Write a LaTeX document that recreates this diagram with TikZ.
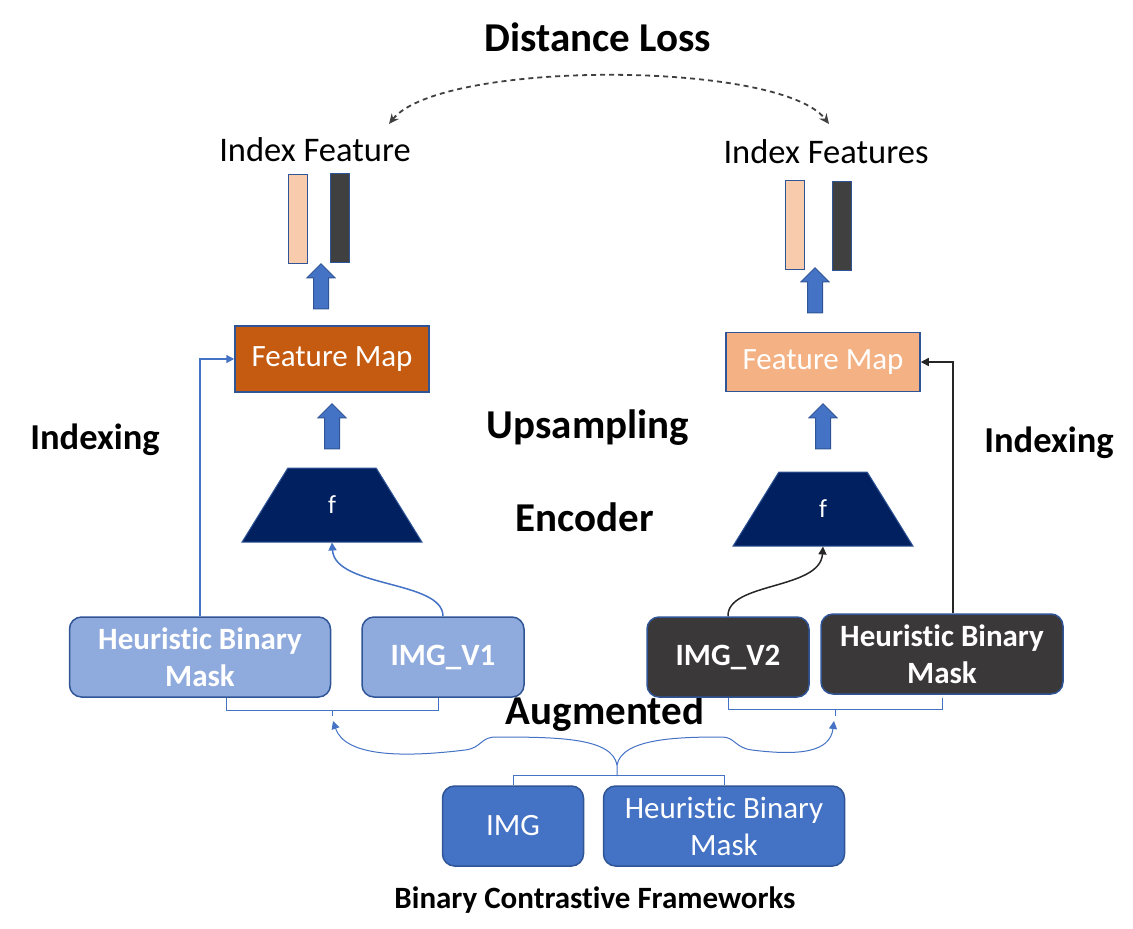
\documentclass[tikz,border=0pt]{standalone}
\usepackage{fontspec}
\setmainfont{Carlito}[Ligatures=NoCommon]
\usetikzlibrary{shapes.geometric,shapes.arrows,arrows.meta}
\definecolor{peach}{HTML}{F8CBAD}
\definecolor{darkbar}{HTML}{404040}
\definecolor{edgeblue}{HTML}{2F5597}
\definecolor{midblue}{HTML}{4472C4}
\definecolor{rust}{HTML}{C55A11}
\definecolor{salmon}{HTML}{F4B183}
\definecolor{navy}{HTML}{002060}
\definecolor{paleblue}{HTML}{8FAADC}
\definecolor{charcoal}{HTML}{3A3838}
\begin{document}
\begin{tikzpicture}[x=1pt, y=-1pt,
    every node/.style={inner sep=0pt},
    title/.style={font=\fontsize{41}{46}\selectfont\bfseries},
    side/.style={font=\fontsize{36.5}{40}\selectfont\bfseries},
    plain/.style={font=\fontsize{34.5}{38}\selectfont},
    bar/.style={draw=edgeblue, line width=1.5pt, minimum width=19pt, minimum height=89pt},
    uparrow/.style={single arrow, shape border rotate=90, draw=edgeblue, fill=midblue, line width=1pt,
      minimum height=45pt, inner sep=7pt, single arrow head extend=6.5pt},
    fmap/.style={draw=edgeblue, line width=1.5pt, minimum width=194pt, text=white, font=\fontsize{31}{34}\selectfont},
    enc/.style={trapezium, trapezium stretches=true, trapezium angle=77, draw=edgeblue, fill=navy, line width=1pt,
      minimum width=180pt, minimum height=74pt, text=white, font=\fontsize{26}{30}\selectfont},
    view/.style={rounded corners=12pt, draw=edgeblue, line width=1.5pt, minimum height=80pt, text=white,
      align=center, font=\fontsize{31}{37}\selectfont\bfseries},
    src/.style={rounded corners=12pt, draw=edgeblue, line width=1.5pt, fill=midblue, minimum height=80pt, text=white,
      align=center, font=\fontsize{31}{37}\selectfont},
    link/.style={midblue, line width=1.5pt, -{Triangle[length=8pt,width=8pt]}},
    brace/.style={midblue, line width=1pt}]
\useasboundingbox (0,0) rectangle (1133,929);

\node[title] (loss) at (598,37) {Distance Loss};
\coordinate (lossl) at (389,124);
\coordinate (lossr) at (829,124);
\draw[darkbar, line width=1.8pt, dash pattern=on 5pt off 4pt, {Stealth[length=10pt,width=9pt]}-{Stealth[length=10pt,width=9pt]}]
  (lossl) .. controls (440,60) and (780,60) .. (lossr);

\node[plain] (idxl) at (315,150) {Index Feature};
\node[plain] (idxr) at (826,152) {Index Features};
\node[bar, fill=peach] (pl) at (298,219) {};
\node[bar, fill=darkbar] (dl) at (340,218) {};
\node[bar, fill=peach] (pr) at (795,225) {};
\node[bar, fill=darkbar] (dr) at (842,226) {};

\node[uparrow] (upl) at (321,290) {};
\node[uparrow] (upr) at (815,294) {};
\node[fmap, fill=rust, minimum height=66pt] (fml) at (332,359) {Feature Map};
\node[fmap, fill=salmon, minimum height=59pt] (fmr) at (823,362) {Feature Map};
\node[uparrow] (upl2) at (332,430) {};
\node[uparrow] (upr2) at (823,430) {};
\node[enc] (encl) at (332,505) {f};
\node[enc] (encr) at (823,509) {f};

\node[side] (indl) at (95,440) {Indexing};
\node[side] (indr) at (1049,443) {Indexing};
\node[title] (ups) at (588,428) {Upsampling};
\node[title] (encs) at (585,517) {Encoder};
\node[title] (aug) at (605,714) {Augmented};

\node[view, fill=paleblue, minimum width=261pt] (mask1) at (200,657) {Heuristic Binary\\Mask};
\node[view, fill=paleblue, minimum width=162pt] (img1) at (443,657) {IMG\_V1};
\node[view, fill=charcoal, minimum width=162pt] (img2) at (728,657) {IMG\_V2};
\node[view, fill=charcoal, minimum width=242pt] (mask2) at (942,654) {Heuristic Binary\\Mask};

\node[src, minimum width=141pt] (img) at (513,826) {IMG};
\node[src, minimum width=241pt] (mask) at (724,826) {Heuristic Binary\\Mask};
\node[font=\fontsize{31}{34}\selectfont\bfseries] (bcf) at (595,900) {Binary Contrastive Frameworks};

\draw[link] (mask1.north) |- (fml.west);
\draw[link, black!85] ([xshift=11pt]mask2.north) |- (fmr.east);
\draw[link] (img1.north) .. controls (443,580) and (335,588) .. (encl.south);
\draw[link, black!85] (img2.north) .. controls (727,582) and (820,590) .. (encr.south);

\draw[brace] ([xshift=26pt]mask1.south) -- ++(0,13) -| ([xshift=-5pt]img1.south);
\draw[brace] (332,710) -- (332,716);
\draw[brace] (img2.south) -- ++(0,12) -| (mask2.south |- img2.south);
\draw[brace] (835,709) -- (835,716);
\draw[brace] (img.north) -- ++(0,-10) -| (mask.north);
\coordinate (split) at (617,776);
\draw[link, line width=1pt] (split) -- (617,765) .. controls (612,738) and (560,737) .. (496,737)
  .. controls (480,737) and (482,748) .. (465,750) .. controls (400,758) and (345,756) .. (333,721);
\draw[link, line width=1pt] (617,765) .. controls (622,738) and (680,737) .. (722,737)
  .. controls (735,737) and (735,748) .. (752,750) .. controls (800,756) and (830,752) .. (834,721);
\end{tikzpicture}
\end{document}
